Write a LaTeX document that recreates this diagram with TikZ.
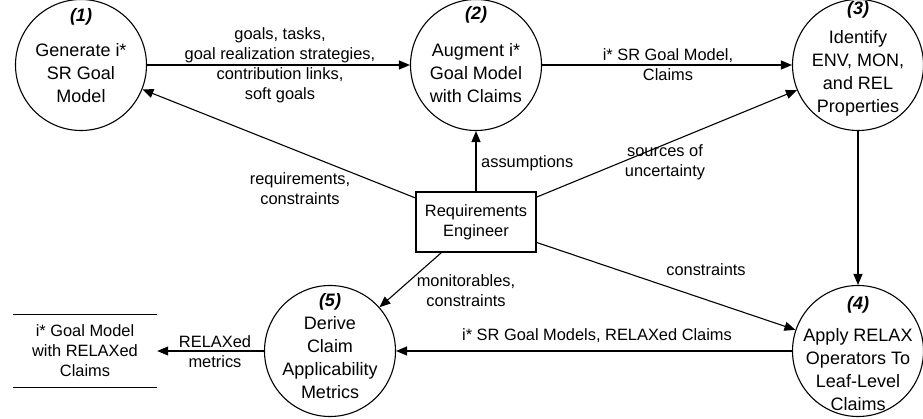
\documentclass[tikz,border=0pt]{standalone}
\usepackage{fontspec}
\setmainfont{Liberation Sans}
\usetikzlibrary{arrows.meta}
\tikzset{
  proc/.style={circle, draw, line width=1.1pt, minimum size=131pt, inner sep=0pt},
  lbl/.style={font=\fontsize{16.4}{20}\selectfont, align=center, inner sep=0pt},
  ctext/.style={font=\fontsize{18}{23}\selectfont, align=center, inner sep=0pt},
  num/.style={font=\fontsize{18}{22}\selectfont\bfseries\itshape, inner sep=0pt},
  actor/.style={draw, line width=1.1pt, minimum width=120pt, minimum height=60pt, inner sep=0pt, font=\fontsize{16.4}{20}\selectfont, align=center},
  store/.style={minimum width=144pt, minimum height=73pt, inner sep=0pt, font=\fontsize{16.4}{20}\selectfont, align=center},
  arr/.style={-{Triangle[length=11pt,width=9pt]}, line width=1.1pt},
  plain/.style={line width=1.1pt}
}
\begin{document}
\begin{tikzpicture}[x=1pt,y=-1pt]
\useasboundingbox (0,0) rectangle (923,419);
% processes
\node[proc] (c1) at (81,65) {};
\node[proc] (c2) at (476,65) {};
\node[proc] (c3) at (858,65) {};
\node[proc] (c4) at (858,351) {};
\node[proc] (c5) at (330,351) {};
\node[num] (n1) at (81,17) {(1)};
\node[num] (n2) at (476,15) {(2)};
\node[num] (n3) at (858,10) {(3)};
\node[num] (n4) at (858,305) {(4)};
\node[num] (n5) at (330,302) {(5)};
\node[ctext] (t1) at (81,73) {Generate i*\\SR Goal\\Model};
\node[ctext] (t2) at (476,73) {Augment i*\\Goal Model\\with Claims};
\node[ctext] (t3) at (858,73) {Identify\\ENV, MON,\\and REL\\Properties};
\node[ctext] (t4) at (858,370) {Apply RELAX\\Operators To\\Leaf-Level\\Claims};
\node[ctext] (t5) at (330,358) {Derive\\Claim\\Applicability\\Metrics};
% actor
\node[actor] (re) at (476,222) {Requirements\\Engineer};
% data store
\node[store] (doc) at (85,351) {i* Goal Model\\with RELAXed\\Claims};
\draw[plain] (doc.north west) -- (doc.north east);
\draw[plain] (doc.south west) -- (doc.south east);
% flows
\draw[arr] (c1) -- (c2);
\draw[arr] (c2) -- (c3);
\draw[arr] (re) -- (c1);
\draw[arr] (re) -- (c2);
\draw[arr] (re) -- (c3);
\draw[arr] (re) -- (c4);
\draw[arr] (re) -- (c5);
\draw[arr] (c3) -- (c4);
\draw[arr] (c4) -- (c5);
\draw[arr] (c5) -- (doc);
% labels
\node[lbl] (l12) at (280,65) {goals, tasks,\\goal realization strategies,\\contribution links,\\soft goals};
\node[lbl] (l23) at (668,65) {i* SR Goal Model,\\Claims};
\node[lbl] (lr1) at (300,189) {requirements,\\constraints};
\node[lbl, anchor=west] (lr2) at (481,163) {assumptions};
\node[lbl] (lr3) at (665,162) {sources of\\uncertainty};
\node[lbl] (lr4) at (706,270) {constraints};
\node[lbl] (lr5) at (466,291) {monitorables,\\constraints};
\node[lbl] (l45) at (597,336) {i* SR Goal Models, RELAXed Claims};
\node[lbl] (l5d) at (215,352) {RELAXed\\metrics};
\end{tikzpicture}
\end{document}
